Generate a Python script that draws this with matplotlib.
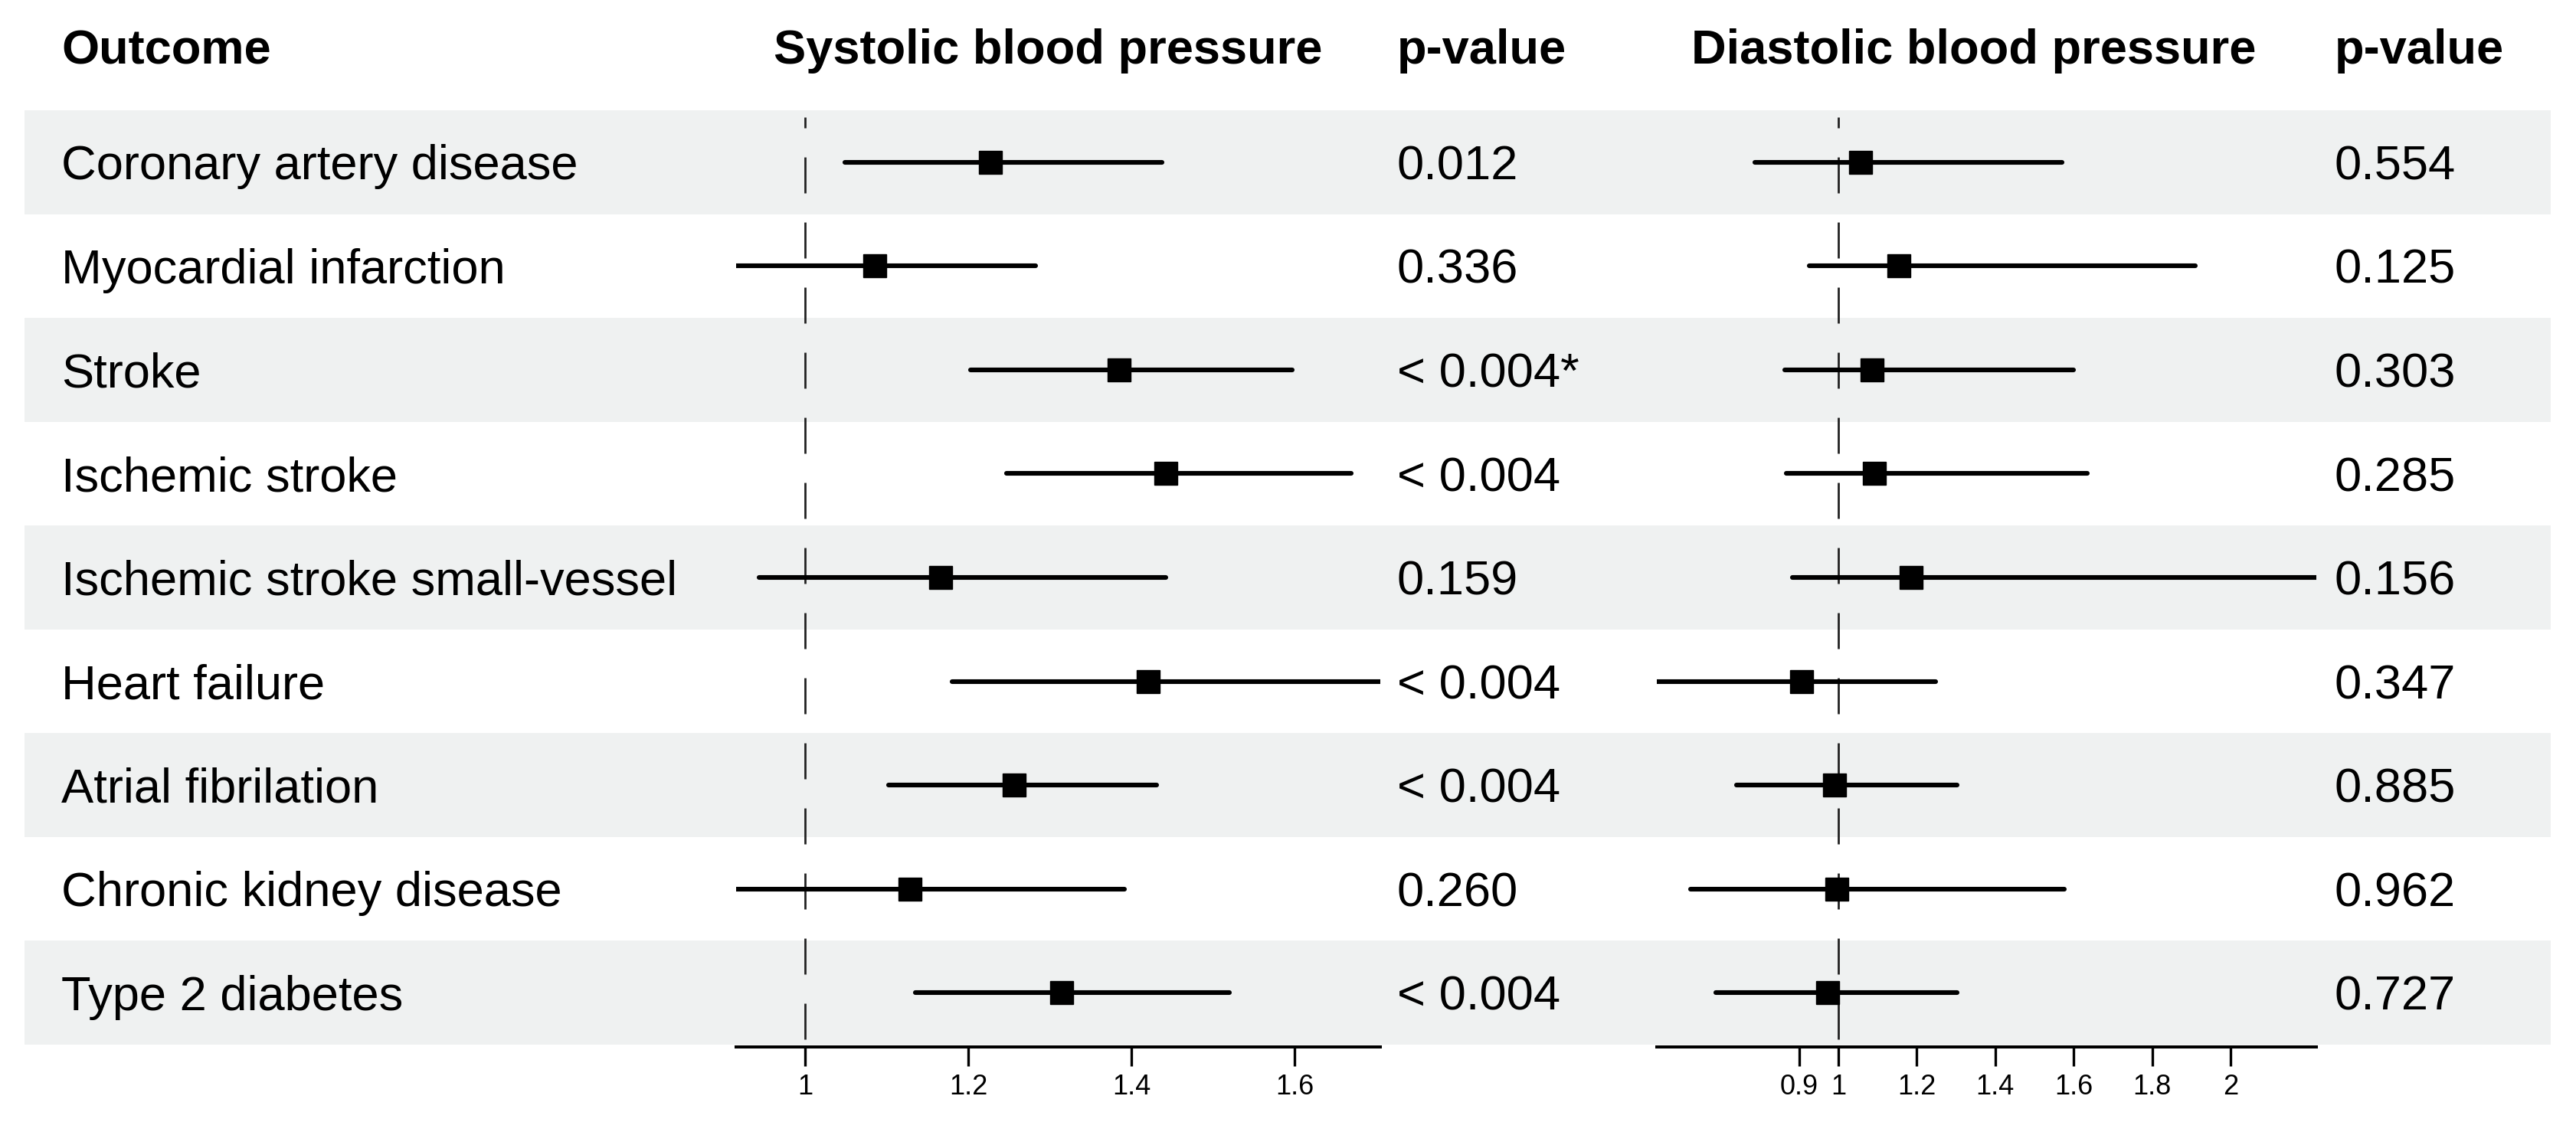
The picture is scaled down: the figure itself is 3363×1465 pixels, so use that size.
import matplotlib
matplotlib.use("Agg")
import matplotlib.pyplot as plt
from matplotlib.patches import Rectangle

# ---------------- data ----------------
outcomes = ["Coronary artery disease", "Myocardial infarction", "Stroke",
            "Ischemic stroke", "Ischemic stroke small-vessel", "Heart failure",
            "Atrial fibrilation", "Chronic kidney disease", "Type 2 diabetes"]

sbp_est = [1.227, 1.085, 1.385, 1.442, 1.166, 1.420, 1.256, 1.128, 1.314]
sbp_lo = [1.048, 0.900, 1.202, 1.247, 0.943, 1.180, 1.102, 0.900, 1.135]
sbp_hi = [1.437, 1.282, 1.597, 1.669, 1.442, 1.750, 1.431, 1.391, 1.520]
sbp_p = ["0.012", "0.336", "< 0.004*", "< 0.004", "0.159", "< 0.004",
         "< 0.004", "0.260", "< 0.004"]

dbp_est = [1.056, 1.154, 1.086, 1.092, 1.185, 0.906, 0.990, 0.996, 0.973]
dbp_lo = [0.787, 0.925, 0.864, 0.867, 0.882, 0.500, 0.740, 0.623, 0.688]
dbp_hi = [1.570, 1.910, 1.599, 1.634, 2.300, 1.248, 1.302, 1.577, 1.302]
dbp_p = ["0.554", "0.125", "0.303", "0.285", "0.156", "0.347", "0.885",
         "0.962", "0.727"]

sbp_ticks = [1, 1.2, 1.4, 1.6]
sbp_ticklabels = ["1", "1.2", "1.4", "1.6"]
dbp_ticks = [0.9, 1, 1.2, 1.4, 1.6, 1.8, 2]
dbp_ticklabels = ["0.9", "1", "1.2", "1.4", "1.6", "1.8", "2"]

headers = ["Outcome", "Systolic blood pressure", "p-value",
           "Diastolic blood pressure", "p-value"]

# ---------------- layout (pixels) ----------------
W, H = 3363, 1465
DPI = 100
plt.rcParams["font.family"] = ["Liberation Sans", "DejaVu Sans"]
FS = 45.5
TICK_FS = 26
band_color = "#eff1f1"

top = 144.0
row_h = 135.56
n = len(outcomes)
axis_y = 1367.0

fig = plt.figure(figsize=(W / DPI, H / DPI), dpi=DPI)
bg = fig.add_axes([0, 0, 1, 1])
bg.set_xlim(0, W)
bg.set_ylim(H, 0)
bg.axis("off")

for i in range(n):
    if i % 2 == 0:
        bg.add_patch(Rectangle((32, top + i * row_h), 3298, row_h,
                               facecolor=band_color, edgecolor="none", zorder=0))

cap_half = 0.716 * FS * DPI / 72 / 2
header_base = 83
bg.text(80, header_base, headers[0], fontsize=FS, fontweight="bold", ha="left", va="baseline")
bg.text(1368, header_base, headers[1], fontsize=FS, fontweight="bold", ha="center", va="baseline")
bg.text(1824, header_base, headers[2], fontsize=FS, fontweight="bold", ha="left", va="baseline")
bg.text(2577, header_base, headers[3], fontsize=FS, fontweight="bold", ha="center", va="baseline")
bg.text(3048, header_base, headers[4], fontsize=FS, fontweight="bold", ha="left", va="baseline")

for i in range(n):
    yb = top + (i + 0.5) * row_h + cap_half
    bg.text(80, yb, outcomes[i], fontsize=FS, ha="left", va="baseline")
    bg.text(1824, yb, sbp_p[i], fontsize=FS, ha="left", va="baseline")
    bg.text(3048, yb, dbp_p[i], fontsize=FS, ha="left", va="baseline")


def forest(x0, x1, est, lo, hi, xlim, ticks, ticklabels):
    ax = fig.add_axes([x0 / W, 1 - axis_y / H, (x1 - x0) / W, (axis_y - top) / H])
    ax.patch.set_alpha(0)
    ax.set_xlim(*xlim)
    ax.set_ylim(n - 0.5 + 3 / row_h, -0.5)
    rows = list(range(n))
    # reference line
    ax.plot([1, 1], [n - 0.5 - 7 / row_h, -0.5 + 9 / row_h], color="#222222",
            lw=2.0, dashes=(16.9, 13.7), solid_capstyle="butt",
            dash_capstyle="butt", zorder=1)
    ax.hlines(rows, lo, hi, colors="black", lw=4.4, capstyle="round", zorder=2)
    ax.plot(est, rows, "s", color="black", ms=21, zorder=3)
    for s in ["top", "left", "right"]:
        ax.spines[s].set_visible(False)
    ax.spines["bottom"].set_linewidth(2.9)
    ax.set_yticks([])
    ax.set_xticks(ticks)
    ax.set_xticklabels(ticklabels)
    ax.tick_params(axis="x", length=18, width=2.4, pad=7, labelsize=TICK_FS)
    return ax


forest(961, 1802, sbp_est, sbp_lo, sbp_hi, (0.915, 1.705), sbp_ticks, sbp_ticklabels)
forest(2163, 3024, dbp_est, dbp_lo, dbp_hi, (0.537, 2.219), dbp_ticks, dbp_ticklabels)

fig.savefig("out.png", dpi=DPI)
